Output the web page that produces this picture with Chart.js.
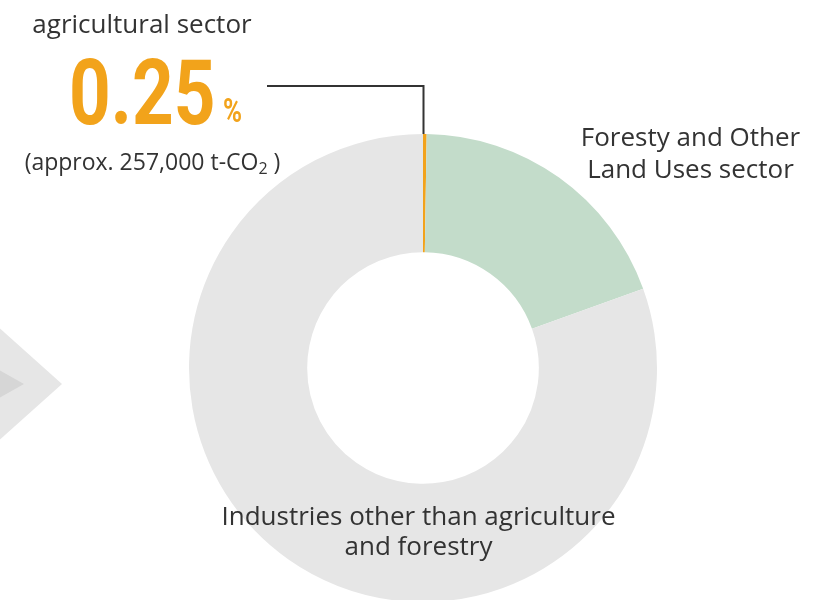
<!DOCTYPE html>
<html>
<head>
<meta charset="utf-8">
<script src="https://cdn.jsdelivr.net/npm/chart.js@4.4.1/dist/chart.umd.min.js"></script>
<style>
  html, body { margin: 0; padding: 0; background: #ffffff; overflow: hidden; }
  #wrap { position: relative; width: 828px; height: 620px; }
  canvas { position: absolute; left: 0; top: 0; }
  .lbl { position: absolute; font-family: "Open Sans", "Noto Sans", sans-serif; color: #333333; text-align: center; white-space: nowrap; }
  .big { position: absolute; font-family: Roboto, sans-serif; font-weight: 700; color: #f2a31b; white-space: nowrap; transform-origin: left top; }
  sub { font-size: 16px; vertical-align: -4px; line-height: 0; }
</style>
</head>
<body>
<div id="wrap">
  <canvas id="c" width="828" height="620"></canvas>
  <div class="lbl" style="left:2px; top:7px; width:280px; font-size:26px; line-height:32px;">agricultural sector</div>
  <div class="big" style="left:69px; top:48px; font-size:91px; line-height:91px; transform: scaleX(0.8);">0.25</div>
  <div class="big" style="left:223px; top:95px; font-size:33px; line-height:32px; transform: scaleX(0.78);">%</div>
  <div class="lbl" style="left:2px; top:148px; width:301px; font-size:23px; line-height:26px;">(approx. 257,000 t-CO<sub>2</sub> )</div>
  <div class="lbl" style="left:560px; top:120px; width:261px; font-size:26px; line-height:32px;">Foresty and Other<br>Land Uses sector</div>
  <div class="lbl" style="left:208px; top:500px; width:421px; font-size:26px; line-height:30px;">Industries other than agriculture<br>and forestry</div>
</div>
<script>
const categories = ["agricultural sector", "Foresty and Other Land Uses sector", "Industries other than agriculture and forestry"];
const shares = [0.25, 19.25, 80.5];
const colors = ["#f2a31b", "#c3dcca", "#e6e6e6"];

const decor = {
  id: "decor",
  beforeDraw(chart) {
    const ctx = chart.ctx;
    ctx.save();
    ctx.fillStyle = "#e6e6e6";
    ctx.beginPath();
    ctx.moveTo(-60, 275); ctx.lineTo(62, 384); ctx.lineTo(-60, 493); ctx.closePath(); ctx.fill();
    ctx.fillStyle = "#d6d6d6";
    ctx.beginPath();
    ctx.moveTo(-40, 348); ctx.lineTo(24, 384); ctx.lineTo(-40, 420); ctx.closePath(); ctx.fill();
    ctx.restore();
  },
  afterDraw(chart) {
    const arc = chart.getDatasetMeta(0).data[0];
    if (!arc) return;
    const ctx = chart.ctx;
    const x = arc.x + 0.5;
    const yTop = arc.y - arc.outerRadius;
    ctx.save();
    ctx.strokeStyle = "#333333";
    ctx.lineWidth = 2;
    ctx.beginPath();
    ctx.moveTo(267, 86);
    ctx.lineTo(x, 86);
    ctx.lineTo(x, yTop);
    ctx.stroke();
    ctx.restore();
  }
};

new Chart(document.getElementById("c"), {
  type: "doughnut",
  data: {
    labels: categories,
    datasets: [{ data: shares, backgroundColor: colors, borderWidth: 0, hoverOffset: 0 }]
  },
  options: {
    responsive: false,
    animation: false,
    cutout: "49.5%",
    rotation: 0,
    layout: { padding: { left: 189, right: 171, top: 134, bottom: 18 } },
    plugins: { legend: { display: false }, tooltip: { enabled: false } },
    events: []
  },
  plugins: [decor]
});
</script>
</body>
</html>
